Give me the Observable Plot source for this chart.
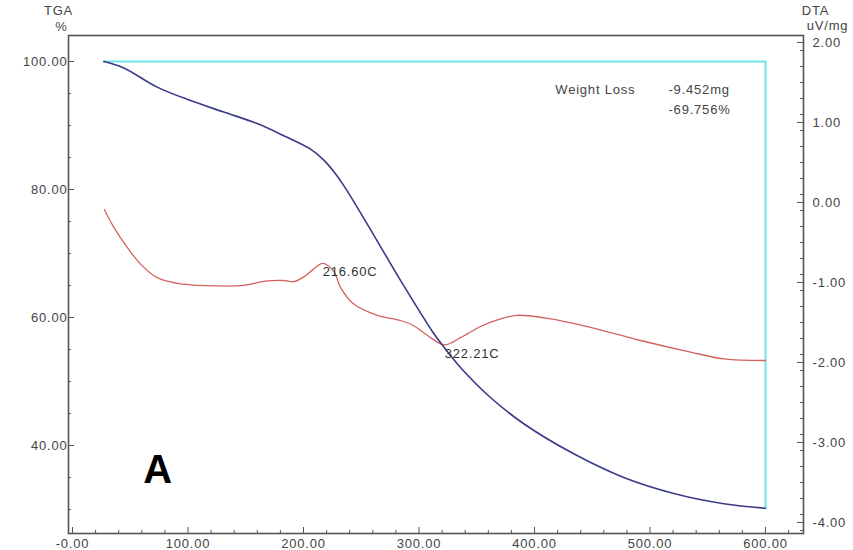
<!DOCTYPE html>
<html><head><meta charset="utf-8">
<script src="https://cdn.jsdelivr.net/npm/d3@7"></script>
<script src="https://cdn.jsdelivr.net/npm/@observablehq/plot@0.6"></script>
<style>body{margin:0;background:#fff} svg{overflow:visible}</style>
</head><body><div id="chart"></div>
<script>
// TGA curve (temperature °C, weight %)
const tgaTemp = [27.1, 44.4, 73.3, 102.2, 131.0, 159.9, 182.9, 206.1, 217.6, 226.2, 234.9, 255.2, 284.0, 312.8, 321.5, 335.9, 361.9, 390.7, 434.0, 477.3, 520.6, 563.9, 600];
const tgaPct  = [100.0, 99.0, 96.0, 93.9, 92.1, 90.3, 88.4, 86.3, 84.6, 82.8, 80.6, 74.6, 65.8, 57.5, 55.4, 52.2, 47.5, 43.4, 38.7, 35.0, 32.5, 30.9, 30.2];
// DTA curve (temperature °C, uV/mg)
const dtaTemp = [27.7, 35.8, 47.4, 58.9, 73.3, 90.6, 116.6, 145.5, 168.6, 182.9, 191.6, 200.3, 208.9, 216.6, 226.2, 232.0, 243.5, 263.8, 284.0, 295.5, 307.1, 322.2, 335.9, 353.2, 370.6, 385.0, 413.9, 448.5, 491.8, 535.1, 563.9, 600];
const dtaVal  = [-0.09, -0.31, -0.56, -0.77, -0.94, -1.01, -1.04, -1.04, -0.98, -0.975, -0.99, -0.93, -0.83, -0.76, -0.86, -1.06, -1.27, -1.41, -1.475, -1.54, -1.66, -1.78, -1.69, -1.55, -1.456, -1.41, -1.454, -1.56, -1.725, -1.87, -1.954, -1.975];
// Peak annotations
const peakTemp  = [216.6, 322.21];
const peakVal   = [-0.76, -1.78];
const peakLabel = ["216.60C", "322.21C"];
// Weight loss box
const weightLossStart = 100;
const weightLossEndTemp = 600;
const weightLossText = ["Weight Loss", "-9.452mg", "-69.756%"];
// Ticks
const xTicks   = [0, 100, 200, 300, 400, 500, 600];
const tgaTicks = [40, 60, 80, 100];
const dtaTicks = [-4, -3, -2, -1, 0, 1, 2];

// Scales
const xDomain   = [-3.463, 632.9];
const tgaDomain = [26.25, 104.0625];
const dtaDomain = [-4.1375, 2.0875];
const toT = d => tgaDomain[0] + (d - dtaDomain[0]) / (dtaDomain[1] - dtaDomain[0]) * (tgaDomain[1] - tgaDomain[0]);
const fromT = t => dtaDomain[0] + (t - tgaDomain[0]) / (tgaDomain[1] - tgaDomain[0]) * (dtaDomain[1] - dtaDomain[0]);

const W = 853, H = 550, mL = 68, mR = 50, mT = 35, mB = 17;
const pw = W - mL - mR, ph = H - mT - mB;

const tga = tgaTemp.map((t, i) => ({t, v: tgaPct[i]}));
const dta = dtaTemp.map((t, i) => ({t, v: toT(dtaVal[i])}));
const peaks = peakTemp.map((t, i) => ({t, v: toT(peakVal[i]), label: peakLabel[i]}));
const cyan = [
  {t: tgaTemp[0], v: weightLossStart},
  {t: weightLossEndTemp, v: weightLossStart},
  {t: weightLossEndTemp, v: tgaPct[tgaPct.length - 1]}
];

const xMinor = d3.range(0, 621, 20).filter(d => d % 100 !== 0);
const yMinor = d3.range(30, 104, 5).filter(d => d % 20 !== 0);
const dMinor = d3.range(-41, 21, 2).map(d => d / 10).filter(d => Math.abs(d - Math.round(d)) > 1e-6);

const axisColor = "#555";
const chart = Plot.plot({
  width: W, height: H,
  marginLeft: mL, marginRight: mR, marginTop: mT, marginBottom: mB,
  style: {fontFamily: "'Liberation Sans', Arial, sans-serif", fontSize: "13px", letterSpacing: "0.8px", color: "#444", background: "#fff"},
  x: {domain: xDomain},
  y: {domain: tgaDomain},
  marks: [
    Plot.line(cyan, {x: "t", y: "v", stroke: "#6fe3e3", strokeWidth: 2}),
    Plot.line(dta, {x: "t", y: "v", stroke: "#d4625c", strokeWidth: 1.3, curve: "catmull-rom"}),
    Plot.line(tga, {x: "t", y: "v", stroke: "#3a3a8a", strokeWidth: 1.6, curve: "catmull-rom"}),
    Plot.frame({stroke: axisColor, strokeWidth: 1.6}),
    // x ticks (inward)
    Plot.tickX(xTicks, {x: d => d, insetTop: ph - 6, stroke: axisColor}),
    Plot.tickX(xMinor, {x: d => d, insetTop: ph - 3, stroke: axisColor}),
    // left ticks
    Plot.tickY(tgaTicks, {y: d => d, insetRight: pw - 6, stroke: axisColor}),
    Plot.tickY(yMinor, {y: d => d, insetRight: pw - 3, stroke: axisColor}),
    // right ticks
    Plot.tickY(dtaTicks.map(toT), {y: d => d, insetLeft: pw - 6, stroke: axisColor}),
    Plot.tickY(dMinor.map(toT), {y: d => d, insetLeft: pw - 3, stroke: axisColor}),
    // axis labels
    Plot.axisX({ticks: xTicks, tickSize: 0, tickPadding: 5, label: null,
      tickFormat: d => d === 0 ? "-0.00" : d.toFixed(2)}),
    Plot.axisY({ticks: tgaTicks, anchor: "left", tickSize: 0, tickPadding: 1, label: null,
      tickFormat: d => d.toFixed(2)}),
    Plot.axisY({ticks: dtaTicks.map(toT), anchor: "right", tickSize: 0, tickPadding: 9, label: null,
      tickFormat: t => { const v = Math.round(fromT(t) * 100) / 100; return (v === 0 ? 0 : v).toFixed(2); }}),
    // axis titles
    Plot.text(["TGA"], {frameAnchor: "top-left", textAnchor: "middle", lineAnchor: "middle", dx: -10, dy: -25, text: d => d, fill: "#444"}),
    Plot.text(["%"], {frameAnchor: "top-left", textAnchor: "middle", lineAnchor: "middle", dx: -7, dy: -9, text: d => d, fill: "#444"}),
    Plot.text(["DTA"], {frameAnchor: "top-right", textAnchor: "middle", lineAnchor: "middle", dx: 12, dy: -25, text: d => d, fill: "#444"}),
    Plot.text(["uV/mg"], {frameAnchor: "top-right", textAnchor: "middle", lineAnchor: "middle", dx: 24, dy: -10, text: d => d, fill: "#444"}),
    // weight loss annotation
    Plot.text([weightLossText[0]], {x: 418, y: 95.6, text: d => d, textAnchor: "start", fill: "#444"}),
    Plot.text([weightLossText[1]], {x: 516, y: 95.6, text: d => d, textAnchor: "start", fill: "#444"}),
    Plot.text([weightLossText[2]], {x: 516, y: 92.5, text: d => d, textAnchor: "start", fill: "#444"}),
    // peak labels
    Plot.text(peaks, {x: "t", y: "v", text: "label", textAnchor: "start", dy: 9, fill: "#333"}),
    // panel letter
    Plot.text(["A"], {x: 74, y: 36.2, text: d => d, fontSize: 40, fontWeight: "bold", fill: "#000"})
  ]
});
document.getElementById("chart").appendChild(chart);
</script>
</body></html>
